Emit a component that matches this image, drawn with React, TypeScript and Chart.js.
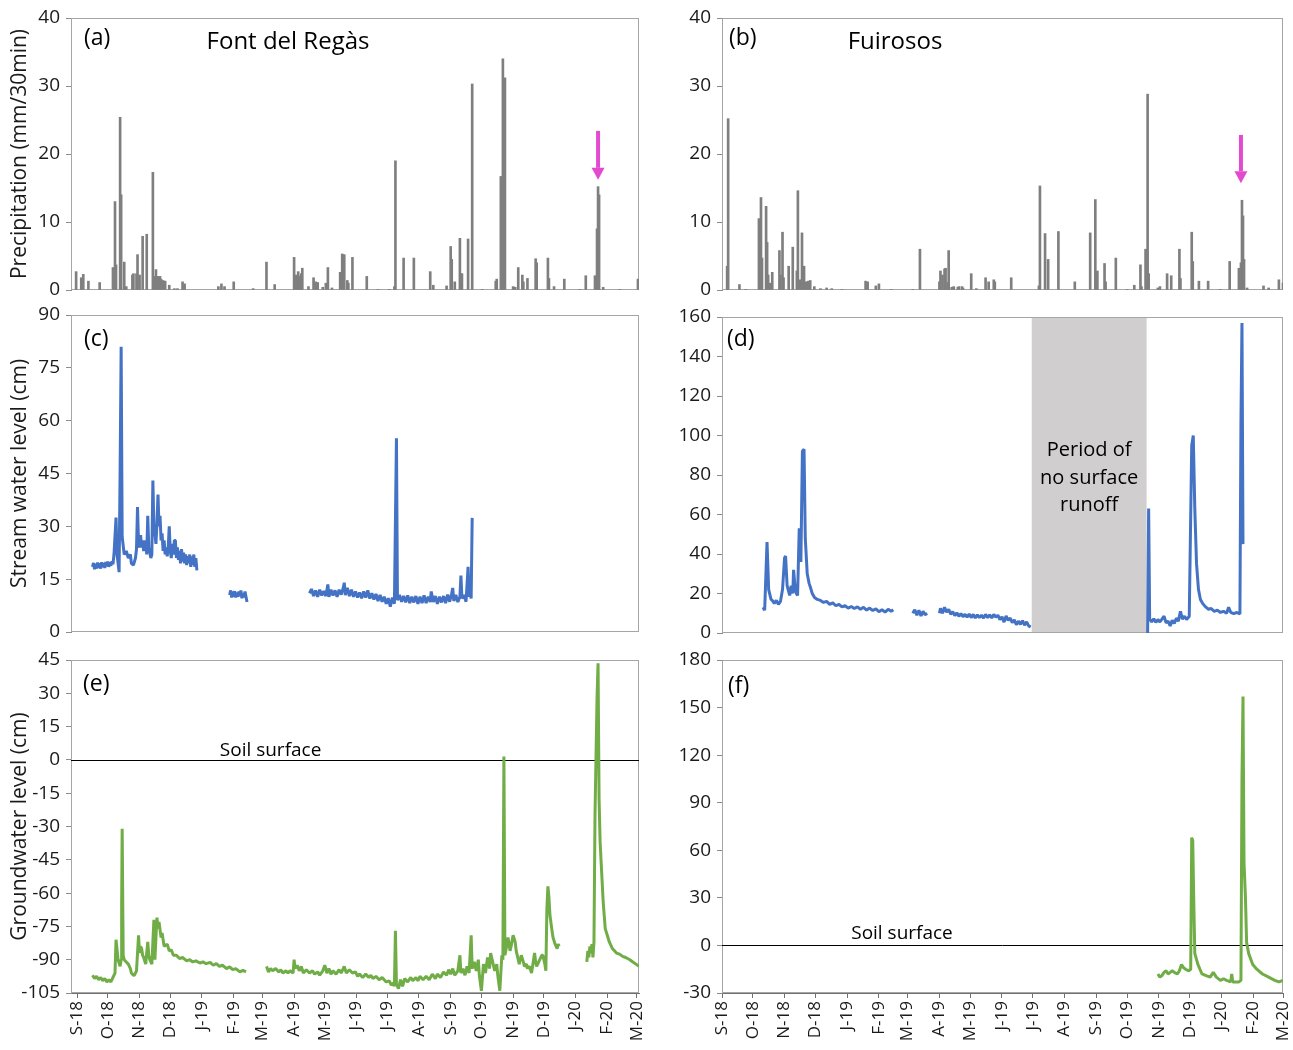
import React, { useEffect, useRef } from "react";
import { Chart, registerables } from "chart.js";

Chart.register(...registerables);

const FONT = "'Open Sans', 'Noto Sans', 'DejaVu Sans', sans-serif";

// ---------- tick labels (x = days since 1 Sep 2018) ----------
const monthLabels = ["S-18", "O-18", "N-18", "D-18", "J-19", "F-19", "M-19", "A-19", "M-19", "J-19", "J-19", "A-19", "S-19", "O-19", "N-19", "D-19", "J-20", "F-20", "M-20"];
const monthStartDays = [0, 30, 61, 91, 122, 153, 181, 212, 242, 273, 303, 334, 365, 395, 426, 456, 487, 518, 547];

type Pair = [number, number | null];

// ---------- (a) precipitation, Font del Regàs (mm/30min) ----------
const precipFontDelRegas: Pair[] = [
  [-1, 2.7], [4, 1.8], [6, 2.3], [11, 1.3], [22, 1.1], [35, 3.3], [37, 13.0], [38, 3.7], [42, 25.4], [43, 14.0],
  [46, 4.1], [48, 0.5], [54, 2.2], [55, 2.4], [58, 2.4], [59, 5.2], [61, 2.2], [64, 7.9], [68, 8.2], [74, 17.3],
  [76, 2.0], [77, 3.0], [79, 2.0], [81, 2.0], [82, 1.6], [84, 1.4], [86, 1.3], [90, 0.7], [95, 0.2], [98, 0.2],
  [103, 1.2], [105, 0.9], [138, 0.5], [141, 0.9], [144, 0.5], [153, 1.2], [172, 0.2], [185, 4.1], [193, 0.8], [212, 4.8],
  [214, 2.2], [216, 2.7], [217, 2.0], [219, 2.4], [220, 3.2], [226, 0.5], [231, 1.8], [233, 1.2], [235, 1.1], [240, 0.4],
  [243, 1.0], [245, 3.3], [249, 0.3], [257, 2.6], [259, 5.3], [261, 5.2], [264, 1.4], [265, 1.0], [269, 4.8], [283, 2.0],
  [294, 0.1], [305, 0.1], [310, 0.5], [311, 19.0], [319, 4.7], [329, 4.7], [345, 2.7], [348, 0.7], [361, 0.6], [365, 6.4],
  [366, 4.5], [369, 1.2], [374, 7.6], [375, 2.4], [376, 2.4], [382, 7.5], [386, 30.3], [396, 0.1], [409, 1.3], [410, 1.6],
  [414, 16.7], [415, 1.2], [416, 34.0], [418, 31.2], [426, 0.5], [428, 0.4], [431, 3.3], [435, 2.2], [436, 1.2], [440, 1.7],
  [448, 4.6], [449, 4.0], [460, 4.7], [461, 1.7], [466, 0.5], [476, 1.6], [491, 0.1], [497, 2.1], [506, 2.1], [508, 9.0],
  [509, 15.2], [510, 14.0], [514, 0.4], [530, 0.1], [548, 1.6],
];

// ---------- (b) precipitation, Fuirosos (mm/30min) ----------
const precipFuirosos: Pair[] = [
  [5, 3.5], [6, 25.2], [17, 0.8], [23, 0.1], [36, 10.5], [38, 13.6], [39, 4.7], [43, 12.3], [44, 7.0], [45, 2.2],
  [47, 1.0], [49, 2.6], [56, 5.8], [57, 2.2], [59, 8.5], [60, 1.8], [65, 3.5], [69, 6.3], [73, 2.8], [74, 14.6],
  [76, 1.5], [78, 8.4], [80, 3.5], [82, 1.2], [84, 1.3], [86, 1.4], [90, 0.5], [96, 0.2], [102, 0.3], [107, 0.2],
  [117, 0.1], [140, 1.3], [142, 1.2], [150, 0.6], [153, 0.9], [165, 0.1], [186, 0.1], [193, 6.0], [212, 1.2], [213, 2.8],
  [215, 2.2], [217, 3.1], [218, 3.2], [220, 1.1], [221, 5.8], [224, 0.4], [226, 0.5], [230, 0.4], [231, 0.5], [234, 0.5],
  [235, 0.3], [243, 2.4], [248, 0.2], [257, 1.8], [260, 1.2], [265, 1.5], [266, 1.2], [282, 1.8], [309, 0.6], [310, 15.3],
  [315, 8.3], [318, 4.5], [328, 8.6], [344, 1.2], [359, 8.4], [364, 13.3], [366, 2.8], [373, 3.9], [374, 1.2], [384, 4.7],
  [395, 0.1], [402, 0.7], [408, 3.7], [409, 0.5], [413, 6.0], [415, 28.8], [416, 2.4], [425, 0.3], [427, 0.5], [434, 2.4],
  [438, 2.1], [446, 6.0], [447, 1.7], [458, 8.5], [459, 4.2], [465, 1.3], [474, 1.3], [486, 0.1], [495, 4.2], [504, 3.2],
  [506, 4.0], [507, 13.2], [508, 10.9], [509, 4.5], [512, 0.3], [528, 0.6], [533, 0.3], [543, 1.5], [547, 1.0],
];

// ---------- (c) stream water level, Font del Regàs (cm) ----------
const streamFontDelRegas: Pair[] = [
  [15, 18.5], [16, 19.6], [17, 17.8], [18, 19.4], [19, 18.0], [20, 19.7], [21, 18.2], [22, 19.5], [23, 18.0], [24, 19.8],
  [25, 18.4], [26, 19.6], [27, 18.2], [28, 19.9], [29, 18.6], [30, 20.0], [31, 18.5], [32, 19.8], [33, 18.8], [34, 20.1],
  [35, 19.2], [36, 22], [38, 32.5], [39, 22], [41, 17], [42, 46], [43, 81], [44, 27], [46, 22], [48, 23],
  [50, 21], [52, 22], [53, 19.5], [55, 19], [57, 21], [58, 23.5], [59, 35.5], [60, 25], [61, 24], [62, 27.5],
  [63, 24], [64, 26], [65, 23], [67, 26], [68, 22], [69, 33], [70, 24], [71, 22.5], [72, 21], [73, 22],
  [74, 43], [75, 30], [76, 28], [77, 25], [78, 31], [79, 39], [80, 30], [81, 33], [82, 26], [83, 28],
  [84, 23], [85, 26], [86, 22], [87, 24], [88, 21.5], [89, 24], [90, 30], [91, 23], [92, 21], [93, 25],
  [94, 22], [95, 26], [96, 26], [97, 21], [98, 24], [99, 20.5], [100, 23], [101, 19.5], [102, 23.5], [103, 20],
  [104, 22.5], [105, 19.5], [106, 22], [107, 19], [108, 21.5], [109, 19.5], [110, 22], [111, 18.5], [112, 21.5], [113, 19],
  [114, 22], [115, 18.5], [116, 21], [117, 17.5],
  [118, null],
  [149, 10.5], [150, 11.8], [151, 9.8], [152, 11.5], [153, 10], [154, 11.6], [155, 9.8], [156, 11.2], [157, 10], [158, 11.5],
  [159, 10.2], [160, 11.8], [161, 9.6], [162, 11], [163, 9.8], [164, 11.5], [165, 10], [166, 8.5],
  [167, null],
  [227, 11], [229, 12.2], [231, 10.2], [233, 11.8], [235, 10], [237, 12], [239, 10.4], [241, 11.6], [243, 10.2], [245, 13.5],
  [246, 10], [248, 12], [250, 10.4], [252, 11.8], [254, 10], [256, 12], [258, 10.6], [260, 12.5], [261, 14], [262, 10.5],
  [264, 12.5], [266, 10.2], [268, 12], [270, 10], [272, 11.5], [274, 9.8], [276, 11.2], [278, 9.6], [280, 11.5], [282, 9.8],
  [284, 11.8], [286, 9.5], [288, 11], [290, 9.2], [292, 10.8], [294, 8.8], [296, 10.5], [298, 8.6], [300, 10], [302, 8],
  [304, 9.6], [306, 7.2], [308, 9.8], [310, 8], [312, 55], [313, 9], [315, 10.5], [317, 8.6], [319, 10.2], [321, 8.4],
  [323, 10.4], [325, 8.2], [327, 10], [329, 8.4], [331, 10.2], [333, 8], [335, 10], [337, 8.2], [339, 10.4], [341, 8.2],
  [343, 10], [345, 8.5], [346, 11.5], [348, 8.5], [350, 10.2], [352, 8], [354, 10], [356, 8.4], [358, 10.2], [360, 8.2],
  [362, 10.6], [364, 8.6], [366, 11], [367, 12.5], [368, 8.8], [370, 10.5], [372, 8.5], [374, 10], [375, 16], [376, 9.5],
  [378, 10.5], [380, 8.6], [382, 18.5], [383, 10], [384, 11.5], [385, 9.5], [386, 32.4],
];

// ---------- (d) stream water level, Fuirosos (cm) ----------
const streamFuirosos: Pair[] = [
  [40, 13], [41.6, 11.5], [43.9, 46], [45.5, 22], [47.8, 17], [49, 16.5], [51, 15], [53, 16.5], [55, 14.5], [57, 16],
  [59, 22], [61, 38], [62, 39], [63.5, 24], [65, 21], [66, 19], [67.4, 24], [69, 20], [69.8, 32], [71.4, 22],
  [72.5, 20], [73.7, 19], [75.3, 53], [76.9, 36], [78.4, 92], [80, 93], [81.2, 48], [83.1, 30], [85, 25], [86.3, 23],
  [88, 20], [90.2, 18], [93, 17], [96, 16.5], [99, 15.5], [102, 16], [105, 14.5], [108, 15.2], [111, 13.8], [114, 14.5],
  [117, 13.2], [120, 13.8], [123, 12.6], [126, 13.4], [129, 12.4], [132, 13.2], [135, 12], [138, 13], [141, 11.6], [144, 12.6],
  [147, 11.4], [150, 12.2], [153, 10.8], [156, 11.8], [159, 10.6], [162, 12], [165, 11], [167, 11.8],
  [168, null],
  [186, 10], [188, 11.8], [190, 9], [192, 11.5], [194, 8.6], [196, 11], [198, 9.2], [200, 10],
  [201, null],
  [212, 10], [213, 12.5], [215, 10], [217, 13], [219, 10.5], [221, 12], [223, 9.5], [225, 10.8], [227, 8.8], [229, 10.2],
  [231, 8.5], [233, 9.8], [235, 8.2], [237, 9.5], [239, 8], [241, 9.6], [243, 7.8], [245, 9.4], [247, 7.6], [249, 9.2],
  [251, 7.8], [253, 9], [255, 7.6], [257, 9.4], [259, 7.8], [261, 9.2], [263, 7.6], [265, 9.4], [267, 8], [269, 9],
  [271, 6.8], [273, 8.2], [275, 5.5], [277, 8.6], [279, 6.4], [281, 7.6], [283, 5.2], [285, 6.6], [287, 4.2], [289, 6],
  [291, 4.4], [293, 6.2], [295, 4], [297, 5.6], [299, 3.6], [301, 3],
  [302, null],
  [415, 0], [416, 63], [417, 7], [419, 5.6], [421, 7.2], [423, 5.4], [425, 6.8], [427, 5.6], [429, 7], [431, 8.5],
  [433, 5.2], [435, 6], [437, 3.6], [439, 6.5], [441, 4.8], [443, 7.5], [445, 6], [447, 11], [449, 7], [451, 8.5],
  [453, 6.8], [455.6, 8.5], [458, 95], [459.5, 100], [461, 63], [462.7, 35], [464.6, 22], [466.5, 17], [468.6, 15], [471, 13.5],
  [474.4, 12], [477, 12.4], [480, 11], [483, 11.6], [486, 10.4], [489, 11], [492, 10], [494, 13], [496, 10.5], [499, 9.8],
  [502, 10.4], [505, 9.6], [506, 107], [507, 157], [508, 45],
];

// no-surface-runoff period in Fuirosos (days)
const noRunoffPeriod = [302, 414];

// ---------- (e) groundwater level, Font del Regàs (cm) ----------
const groundFontDelRegas: Pair[] = [
  [15, -97], [17, -98.5], [19, -97.5], [21, -99], [23, -98], [25, -99.5], [27, -98.5], [29, -100], [31, -99], [33, -100],
  [35, -98], [37, -96], [38, -81], [40, -90], [42, -93], [43, -90], [43.5, -65], [44, -31], [45, -88], [46, -90],
  [48, -91], [50, -92], [52, -94], [53, -96], [55, -97], [56, -97], [58, -95], [60, -79], [61, -87], [62, -84],
  [63, -85], [64, -88], [65, -89], [67, -92], [69, -82], [70, -88], [71, -90], [73, -92], [75, -72], [76, -90],
  [77, -80], [78, -71], [79, -76], [80, -73], [82, -80], [83, -78], [85, -84], [88, -83], [90, -86], [92, -85.5],
  [94, -88], [97, -88], [100, -89.5], [103, -89], [107, -90.5], [110, -90], [113, -91], [116, -90.5], [120, -91.5], [123, -91],
  [126, -91.8], [130, -91.2], [133, -92.5], [136, -91.8], [139, -93], [142, -92.5], [146, -94], [149, -93.2], [152, -94.5], [155, -94],
  [159, -95.5], [162, -94.8], [165, -95.5],
  [166, null],
  [185, -93], [187, -95.5], [189, -94], [191, -95], [194, -94], [197, -95.5], [199, -94.5], [201, -96], [204, -95], [206, -96],
  [208, -95], [211, -96], [212, -90], [213, -94], [215, -92.5], [217, -95], [219, -93], [221, -96], [224, -94.5], [227, -96],
  [230, -95], [232, -96.5], [235, -95.5], [237, -97], [240, -95], [242, -92.5], [244, -96], [246, -94], [248, -96.5], [250, -95],
  [253, -96.5], [256, -94.5], [258, -96], [261, -93], [263, -96], [266, -94.5], [269, -96], [272, -95.5], [274, -97.5], [276, -96.5],
  [279, -98], [282, -96.5], [285, -98], [287, -97], [289, -98.5], [292, -97.5], [295, -99], [298, -98], [302, -100], [305, -99.5],
  [307, -101.5], [309, -100.5], [310, -102], [311, -77], [312, -101], [314, -103], [316, -99], [318, -102], [320, -98.5], [323, -100],
  [326, -98], [328, -99.5], [331, -98], [333, -99.5], [335, -97.5], [338, -99], [341, -97.5], [344, -99], [347, -96.5], [350, -98.5],
  [352, -96.5], [355, -98], [358, -95.5], [361, -97], [363, -94.5], [365, -96.5], [367, -94], [369, -97], [372, -95], [374, -88],
  [375, -96], [377, -94], [379, -97], [381, -93], [383, -96], [385, -79], [386, -94], [388, -91], [390, -95], [392, -90],
  [393, -97], [395, -104], [397, -92], [399, -96], [401, -89], [403, -94], [404, -87], [406, -91], [408, -95], [410, -92],
  [411, -97], [413, -104], [415, -88], [416, -90], [417, 1.5], [418, -88], [420, -83], [421, -80], [423, -86], [424, -84],
  [426, -79], [428, -82], [429, -86], [431, -90], [432, -92], [434, -88], [436, -91], [437, -93], [439, -92], [440, -94],
  [442, -93], [444, -96], [446, -90], [447, -87], [448, -91], [449, -93], [451, -91], [452, -90], [454, -88], [455, -88],
  [457, -92], [458, -95], [459, -67], [460, -57], [461, -62], [462, -70], [464, -77], [465, -80], [467, -83], [469, -85],
  [470, -83], [471, -84],
  [472, null],
  [498, -91], [499, -86], [500, -89], [501, -84], [502, -87], [503, -83], [504, -89], [505, -82], [506, -25], [508, 28],
  [509, 43.5], [510, -18], [511, -37], [513, -55], [514, -64], [516, -76], [518, -79], [520, -82], [523, -85], [527, -87],
  [530, -87.5], [533, -88.5], [536, -89], [540, -90], [543, -91], [546, -92], [549, -93],
];

// ---------- (f) groundwater level, Fuirosos (cm) ----------
const groundFuirosos: Pair[] = [
  [425, -18], [427, -20], [429, -19], [431, -17], [433, -16], [435, -18], [437, -17], [439, -16], [441, -17], [444, -18],
  [446, -16], [448, -12], [450, -14], [452, -15], [455, -16], [457, -15], [458, 68], [459, 66], [460, 28], [461, -5],
  [464, -12], [468, -18], [472, -19], [476, -20], [479, -17], [482, -20], [486, -22], [489, -21], [492, -22], [496, -23],
  [497, -18], [498, -23], [501, -23], [504, -23], [506, -22], [507, 105], [508, 157], [509, 52], [510.4, 30], [511.5, 2],
  [513.5, -5], [517.5, -12], [521.4, -15], [527, -18], [533, -20], [539, -22], [543, -23], [547, -22],
];

// ---------- styles ----------
const GRAY_BAR = "#7f7f7f";
const BLUE = "#4472c4";
const GREEN = "#70ad47";
const ARROW = "#e24bd0";
const AXIS = "#8c8c8c";
const FRAME = "#a6a6a6";
const TEXT = "#1a1a1a";

const toXY = (arr: Pair[]) => arr.map(([x, y]) => ({ x, y }));

type Col = { x: number; w: number; yw: number; pr: number; xMin: number; xMax: number };
const LEFT: Col = { x: 0, w: 653, yw: 71, pr: 14, xMin: -6, xMax: 549 };
const RIGHT: Col = { x: 660, w: 633, yw: 62, pr: 10, xMin: 0, xMax: 547 };

type Spec = {
  id: string;
  col: Col;
  top: number;
  height: number;
  padBottom: number;
  xh: number;
  showX: boolean;
  yMin: number;
  yMax: number;
  yStep: number;
  yTitle?: string;
  kind: "bar" | "line";
  data: Pair[];
  color: string;
  label: string;
  labelPos: [number, number];
  heading?: string;
  headingPos?: [number, number];
  arrow?: { day: number; from: number; to: number };
  band?: number[];
  soil?: { day: number; lift: number };
};

function txt(ctx: CanvasRenderingContext2D, s: string, x: number, y: number, size: number, align: CanvasTextAlign, base: CanvasTextBaseline) {
  ctx.save();
  ctx.fillStyle = "#000";
  ctx.font = `${size}px ${FONT}`;
  ctx.textAlign = align;
  ctx.textBaseline = base;
  ctx.fillText(s, x, y);
  ctx.restore();
}

function makePlugin(p: Spec) {
  return {
    id: "decor_" + p.id,
    beforeDatasetsDraw(chart: any) {
      const { ctx, chartArea: a, scales } = chart;
      const xs = scales.x;
      const ys = scales.y;
      ctx.save();
      if (p.band) {
        const x0 = xs.getPixelForValue(p.band[0]);
        const x1 = xs.getPixelForValue(p.band[1]);
        ctx.fillStyle = "#d0cece";
        ctx.fillRect(x0, a.top, x1 - x0, a.bottom - a.top);
      }
      ctx.strokeStyle = FRAME;
      ctx.lineWidth = 1;
      ctx.strokeRect(Math.round(a.left) + 0.5, Math.round(a.top) + 0.5, Math.round(a.right - a.left) - 1, Math.round(a.bottom - a.top) - 1);
      if (p.soil) {
        const y0 = Math.round(ys.getPixelForValue(0)) + 0.5;
        ctx.strokeStyle = "#000";
        ctx.beginPath();
        ctx.moveTo(a.left, y0);
        ctx.lineTo(a.right, y0);
        ctx.stroke();
      }
      ctx.restore();
    },
    afterDatasetsDraw(chart: any) {
      const { ctx, chartArea: a, scales } = chart;
      const xs = scales.x;
      const ys = scales.y;
      txt(ctx, p.label, a.left + p.labelPos[0], a.top + p.labelPos[1], 23, "left", "middle");
      if (p.heading && p.headingPos) {
        txt(ctx, p.heading, a.left + p.headingPos[0], a.top + p.headingPos[1], 24, "center", "middle");
      }
      if (p.arrow) {
        const x = xs.getPixelForValue(p.arrow.day);
        const y1 = ys.getPixelForValue(p.arrow.from);
        const y2 = ys.getPixelForValue(p.arrow.to);
        ctx.save();
        ctx.fillStyle = ARROW;
        ctx.fillRect(x - 2, y1, 4, y2 - 12 - y1);
        ctx.beginPath();
        ctx.moveTo(x - 6.5, y2 - 12);
        ctx.lineTo(x + 6.5, y2 - 12);
        ctx.lineTo(x, y2);
        ctx.closePath();
        ctx.fill();
        ctx.restore();
      }
      if (p.band) {
        const cx = xs.getPixelForValue((p.band[0] + p.band[1]) / 2);
        txt(ctx, "Period of", cx, ys.getPixelForValue(92.7), 20, "center", "middle");
        txt(ctx, "no surface", cx, ys.getPixelForValue(78.5), 20, "center", "middle");
        txt(ctx, "runoff", cx, ys.getPixelForValue(64.8), 20, "center", "middle");
      }
      if (p.soil) {
        txt(ctx, "Soil surface", xs.getPixelForValue(p.soil.day), ys.getPixelForValue(0) - p.soil.lift, 19, "center", "alphabetic");
      }
    },
  };
}

function buildConfig(p: Spec): any {
  const dataset =
    p.kind === "bar"
      ? { type: "bar", data: toXY(p.data), backgroundColor: p.color, borderWidth: 0, barThickness: 2 }
      : {
          type: "line",
          data: toXY(p.data),
          borderColor: p.color,
          borderWidth: 3,
          pointRadius: 0,
          spanGaps: false,
          tension: 0,
          fill: false,
          borderJoinStyle: "bevel",
        };
  return {
    type: p.kind,
    data: { datasets: [dataset] },
    options: {
      animation: false,
      responsive: false,
      events: [],
      layout: { padding: { top: 12, right: p.col.pr, bottom: p.padBottom, left: 0 } },
      plugins: { legend: { display: false }, tooltip: { enabled: false }, title: { display: false } },
      scales: {
        x: {
          type: "linear",
          min: p.col.xMin,
          max: p.col.xMax,
          offset: false,
          display: p.showX,
          afterBuildTicks: (s: any) => {
            s.ticks = monthStartDays.map((v) => ({ value: v }));
          },
          afterFit: (s: any) => {
            s.height = p.xh;
            s.paddingLeft = 0;
            s.paddingRight = 0;
          },
          ticks: {
            autoSkip: false,
            minRotation: 90,
            maxRotation: 90,
            padding: 3,
            color: TEXT,
            font: { family: FONT, size: 17 },
            callback: (_v: any, i: number) => monthLabels[i],
          },
          grid: { drawOnChartArea: false, drawTicks: true, tickLength: 5, color: "#707070", offset: false },
          border: { display: true, color: "#707070" },
        },
        y: {
          type: "linear",
          min: p.yMin,
          max: p.yMax,
          afterFit: (s: any) => {
            s.width = p.col.yw;
            s.paddingTop = 0;
            s.paddingBottom = 0;
          },
          ticks: { stepSize: p.yStep, padding: 6, color: TEXT, font: { family: FONT, size: 19 } },
          grid: { drawOnChartArea: false, drawTicks: true, tickLength: 5, color: AXIS },
          border: { display: true, color: AXIS },
          title: p.yTitle
            ? { display: true, text: p.yTitle, color: TEXT, font: { family: FONT, size: 21 }, padding: { top: 7, bottom: 0 } }
            : { display: false },
        },
      },
    },
    plugins: [makePlugin(p)],
  };
}

const specs: Spec[] = [
  {
    id: "a", col: LEFT, top: 6, height: 296, padBottom: 12, xh: 0, showX: false,
    yMin: 0, yMax: 40, yStep: 10, yTitle: "Precipitation (mm/30min)",
    kind: "bar", data: precipFontDelRegas, color: GRAY_BAR,
    label: "(a)", labelPos: [13, 20], heading: "Font del Regàs", headingPos: [217, 24],
    arrow: { day: 509, from: 23.4, to: 16.2 },
  },
  {
    id: "b", col: RIGHT, top: 6, height: 296, padBottom: 12, xh: 0, showX: false,
    yMin: 0, yMax: 40, yStep: 10,
    kind: "bar", data: precipFuirosos, color: GRAY_BAR,
    label: "(b)", labelPos: [7, 20], heading: "Fuirosos", headingPos: [173, 24],
    arrow: { day: 506, from: 22.8, to: 15.7 },
  },
  {
    id: "c", col: LEFT, top: 303, height: 341, padBottom: 12, xh: 0, showX: false,
    yMin: 0, yMax: 90, yStep: 15, yTitle: "Stream water level (cm)",
    kind: "line", data: streamFontDelRegas, color: BLUE,
    label: "(c)", labelPos: [13, 24],
  },
  {
    id: "d", col: RIGHT, top: 305, height: 340, padBottom: 12, xh: 0, showX: false,
    yMin: 0, yMax: 160, yStep: 20,
    kind: "line", data: streamFuirosos, color: BLUE,
    label: "(d)", labelPos: [5, 22], band: noRunoffPeriod,
  },
  {
    id: "e", col: LEFT, top: 648, height: 402, padBottom: 0, xh: 57, showX: true,
    yMin: -105, yMax: 45, yStep: 15, yTitle: "Groundwater level (cm)",
    kind: "line", data: groundFontDelRegas, color: GREEN,
    label: "(e)", labelPos: [12, 24], soil: { day: 189, lift: 4 },
  },
  {
    id: "f", col: RIGHT, top: 648, height: 402, padBottom: 0, xh: 57, showX: true,
    yMin: -30, yMax: 180, yStep: 30,
    kind: "line", data: groundFuirosos, color: GREEN,
    label: "(f)", labelPos: [6, 26], soil: { day: 175.5, lift: 6 },
  },
];

function Panel({ spec }: { spec: Spec }) {
  const ref = useRef<HTMLCanvasElement>(null);
  useEffect(() => {
    if (!ref.current) return;
    const chart = new Chart(ref.current, buildConfig(spec));
    return () => chart.destroy();
  }, [spec]);
  return (
    <canvas
      ref={ref}
      width={spec.col.w}
      height={spec.height}
      style={{ position: "absolute", left: spec.col.x, top: spec.top, width: spec.col.w, height: spec.height }}
    />
  );
}

export default function App() {
  return (
    <div style={{ position: "absolute", left: 0, top: 0, width: 1293, height: 1050, overflow: "hidden", background: "#fff" }}>
      {specs.map((s) => (
        <Panel key={s.id} spec={s} />
      ))}
    </div>
  );
}
